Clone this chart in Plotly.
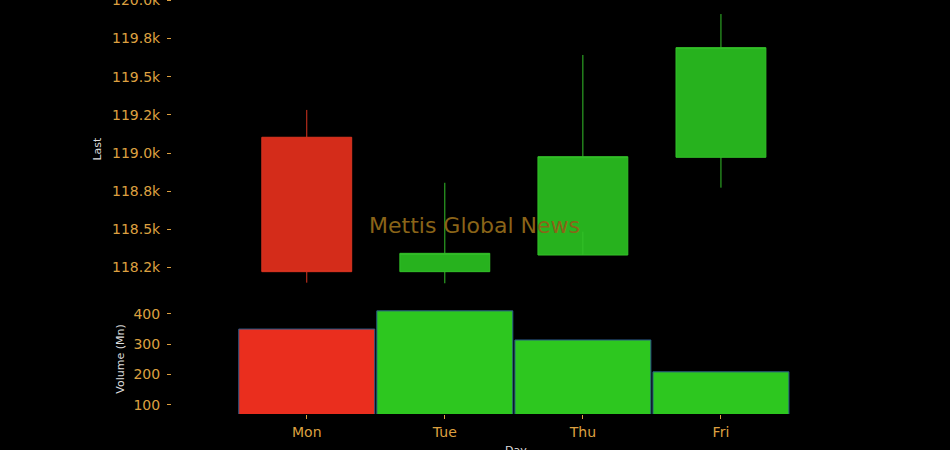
import plotly.graph_objects as go
from plotly.subplots import make_subplots

days = ["Mon", "Tue", "Thu", "Fri"]
open_ = [119103, 118223, 118332, 118972]
high = [119282, 118805, 119642, 119910]
low = [118151, 118147, 118485, 118773]
close = [118223, 118343, 118976, 119690]
volume = [350, 410, 314, 209]

price_ticks = [118250, 118500, 118750, 119000, 119250, 119500, 119750, 120000]
price_labels = ["118.2k", "118.5k", "118.8k", "119.0k", "119.2k", "119.5k", "119.8k", "120.0k"]

TICK = "#DDA040"
RED_C, GREEN_C = "#D42C1A", "#27B21E"
RED_V, GREEN_V = "#EA2E1E", "#2DC71F"

vol_colors = [GREEN_V if c >= o else RED_V for o, c in zip(open_, close)]

fig = make_subplots(rows=2, cols=1, shared_xaxes=True, vertical_spacing=0.01,
                    row_heights=[0.72, 0.27])

fig.add_trace(go.Candlestick(
    x=days, open=open_, high=high, low=low, close=close,
    increasing=dict(fillcolor=GREEN_C, line=dict(color="#34c02a", width=1)),
    decreasing=dict(fillcolor=RED_C, line=dict(color="#d83420", width=1)),
    showlegend=False
), row=1, col=1)

fig.add_trace(go.Bar(
    x=days, y=volume,
    marker=dict(color=vol_colors, line=dict(color="#2a5a8a", width=1)),
    width=0.985, showlegend=False
), row=2, col=1)

axis_common = dict(showgrid=False, zeroline=False, showline=False, automargin=False,
                   ticks="outside", ticklen=4, tickcolor=TICK, ticklabeloverflow="allow",
                   tickfont=dict(color=TICK, size=14))

fig.update_xaxes(**axis_common, range=[-0.976, 4.0], rangeslider_visible=False,
                 ticklabelstandoff=1)
fig.update_xaxes(showticklabels=False, ticks="", row=1, col=1)

fig.update_yaxes(**axis_common, ticklabelstandoff=4)
fig.update_yaxes(range=[118050, 120002], tickvals=price_ticks, ticktext=price_labels,
                 title=dict(text="Last", font=dict(color="#dddddd", size=11), standoff=8),
                 domain=[0.28, 1], row=1, col=1)
fig.update_yaxes(range=[70, 433], dtick=100,
                 title=dict(text="Volume (Mn)", font=dict(color="#dddddd", size=11), standoff=6),
                 domain=[0, 0.266], row=2, col=1)

# x-axis title placed as an annotation so it can sit at the bottom edge
fig.add_annotation(text="Day", xref="paper", yref="paper", x=0.5, y=-0.087,
                   yanchor="middle", showarrow=False,
                   font=dict(color="#dddddd", size=11))

fig.add_annotation(text="Mettis Global News", xref="paper", yref="paper",
                   x=0.441, y=0.4565, showarrow=False,
                   font=dict(size=22, color="#8a6418"))

fig.update_layout(
    width=950, height=450,
    paper_bgcolor="black", plot_bgcolor="black",
    font=dict(family="DejaVu Sans"),
    margin=dict(t=0, b=36, l=172, r=91),
    boxgap=0.07,
    xaxis_rangeslider_visible=False,
)

fig.write_html("out.html", config={"displayModeBar": False},
               post_script="document.body.style.margin='0';document.body.style.background='black';")
